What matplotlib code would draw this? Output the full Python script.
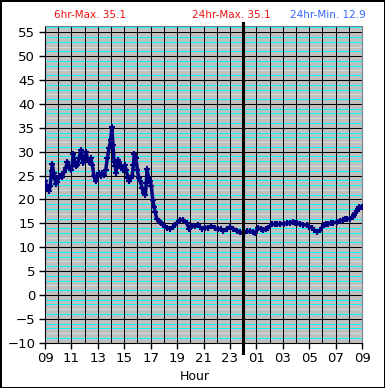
import matplotlib
matplotlib.use("Agg")
import matplotlib.pyplot as plt
import numpy as np

# Hours since 09:00, and temperatures
hours = [0.00, 0.08, 0.18, 0.30, 0.40, 0.50, 0.56, 0.65, 0.73, 0.85, 0.93, 1.05, 1.19, 1.30,
         1.44, 1.57, 1.69, 1.82, 1.94, 2.05, 2.15, 2.25, 2.32, 2.45, 2.58, 2.70, 2.78, 2.90,
         3.00, 3.11, 3.21, 3.33, 3.46, 3.59, 3.71, 3.84, 3.97, 4.09, 4.22, 4.34, 4.47, 4.60,
         4.72, 4.85, 4.97, 5.06, 5.15, 5.23, 5.33, 5.38, 5.45, 5.53, 5.63, 5.78, 5.91, 6.03,
         6.14, 6.29, 6.39, 6.49, 6.59, 6.69, 6.76, 6.89, 6.99, 7.10, 7.22, 7.35, 7.47, 7.60,
         7.67, 7.73, 7.85, 7.98, 8.05, 8.16, 8.26, 8.33, 8.46, 8.60, 8.71, 8.96, 9.22, 9.47,
         9.72, 9.97, 10.23, 10.48, 10.73, 10.93, 11.10, 11.36, 11.60, 11.87, 12.12, 12.37,
         12.60, 12.85, 13.10, 13.30, 13.50, 13.75, 14.02, 14.25, 14.52, 14.80, 15.02, 15.30,
         15.53, 15.75, 15.90, 16.16, 16.35, 16.54, 16.75, 16.92, 17.17, 17.40, 17.55, 17.80,
         18.06, 18.30, 18.57, 18.75, 18.94, 19.10, 19.32, 19.55, 19.83, 20.00, 20.20, 20.40,
         20.58, 20.83, 21.09, 21.30, 21.46, 21.65, 21.84, 22.10, 22.35, 22.55, 22.73, 22.90,
         23.10, 23.30, 23.40, 23.50, 23.60, 23.70, 23.80, 24.00]
temps = [23.8, 23.0, 22.2, 21.8, 22.8, 26.0, 27.4, 25.5, 24.4, 23.3, 23.6, 24.8, 25.0, 24.6,
         25.8, 26.5, 27.9, 26.9, 26.2, 27.0, 29.6, 27.9, 26.9, 27.2, 28.6, 30.3, 29.0, 27.6,
         29.0, 30.0, 28.6, 27.9, 28.6, 27.2, 24.8, 23.8, 24.8, 25.5, 24.8, 25.5, 25.1, 26.2,
         28.6, 30.7, 32.4, 35.1, 31.4, 27.9, 26.9, 25.6, 27.0, 28.3, 27.9, 26.5, 26.2, 27.2,
         26.2, 24.4, 23.8, 24.4, 24.8, 27.2, 29.5, 28.6, 26.2, 24.4, 23.8, 22.4, 21.3, 21.0,
         23.5, 26.3, 24.4, 23.8, 22.7, 19.9, 18.5, 17.4, 16.0, 15.5, 15.3, 14.6, 14.1, 13.9,
         14.3, 15.0, 15.7, 15.7, 15.0, 13.9, 14.4, 14.4, 14.6, 13.9, 14.1, 14.1,
         14.4, 14.0, 13.7, 13.8, 13.4, 13.8, 14.2, 13.9, 13.4, 13.1, 12.9, 13.3,
         13.3, 13.2, 13.0, 14.0, 13.8, 13.6, 13.9, 14.1, 14.8, 14.8, 14.8, 14.9,
         14.9, 15.0, 15.1, 15.2, 15.1, 15.0, 14.9, 14.7, 14.6, 14.3, 14.1, 13.6,
         13.2, 13.5, 14.7, 14.8, 14.9, 15.0, 15.1, 15.3, 15.5, 15.6, 15.8, 15.9,
         16.0, 16.4, 16.7, 17.1, 17.6, 18.0, 18.4, 18.5]

xtick_pos = list(range(0, 25, 2))
xtick_labels = ["09", "11", "13", "15", "17", "19", "21", "23", "01", "03", "05", "07", "09"]
yticks = list(range(-10, 56, 5))

fig = plt.figure(figsize=(3.85, 3.88), dpi=100, facecolor="white",
                 edgecolor="black", linewidth=2)
ax = fig.add_axes([45 / 385, 1 - 342.7 / 388, 317 / 385, 316.7 / 388])
ax.set_facecolor("#c0c0c0")

# minor lines every degree (cyan, with a paler one in each block)
for v in range(-9, 57):
    if v % 5 == 0:
        continue
    col = "#d4dcdc" if v % 5 == 2 else "#00ffff"
    ax.axhline(v, color=col, lw=0.7, zorder=1, antialiased=False)
for v in yticks:
    ax.axhline(v, color="black", lw=0.7, zorder=2, antialiased=False)
for h in range(1, 24):
    ax.axvline(h, color="black", lw=0.7, zorder=2, antialiased=False)

ax.plot(hours, temps, color="#000080", lw=2.5, marker="+", ms=5, mew=1.5, zorder=4)

# midnight marker
ax.axvline(15, ymin=-0.033, ymax=1.009, color="black", lw=2.2, clip_on=False, zorder=5)

ax.set_xlim(0, 24)
ax.set_ylim(-10, 56.3)
ax.set_xticks(xtick_pos)
ax.set_xticklabels(xtick_labels)
ax.set_yticks(yticks)
ax.tick_params(direction="out", length=4, width=1, labelsize=9.5, pad=3)
for s in ["top", "right"]:
    ax.spines[s].set_color("#808080")
ax.spines["left"].set_color("black")
ax.spines["bottom"].set_color("black")

fig.text(195 / 385, 1 - 377 / 388, "Hour", ha="center", va="center", fontsize=9)
fig.text(54 / 385, 1 - 15.5 / 388, "6hr-Max. 35.1", color="#ee1111", ha="left", va="center", fontsize=7.5)
fig.text(192 / 385, 1 - 15.5 / 388, "24hr-Max. 35.1", color="#ee1111", ha="left", va="center", fontsize=7.5)
fig.text(290 / 385, 1 - 15.5 / 388, "24hr-Min. 12.9", color="#3366ff", ha="left", va="center", fontsize=7.5)

fig.savefig("out.png", dpi=100)
